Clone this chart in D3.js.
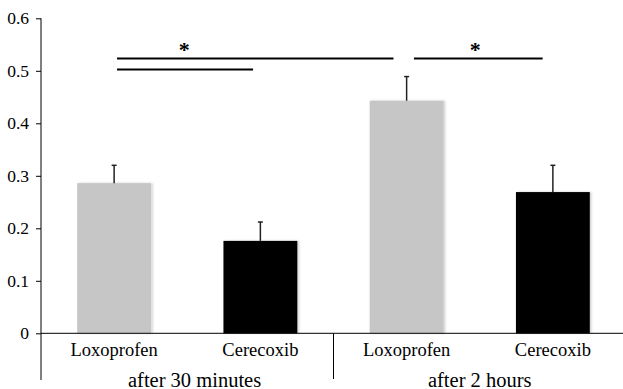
<!DOCTYPE html>
<html>
<head>
<meta charset="utf-8">
<script src="https://cdn.jsdelivr.net/npm/d3@7"></script>
<style>
  html, body { margin: 0; padding: 0; background: #fff; }
  svg { display: block; }
  text { font-family: "Liberation Serif", "Times New Roman", serif; fill: #000; }
</style>
</head>
<body>
<svg id="chart" width="623" height="389"></svg>
<script>
// ---- data ----
const drugs = ["Loxoprofen", "Cerecoxib", "Loxoprofen", "Cerecoxib"];
const groups = ["after 30 minutes", "after 2 hours"];
const groupCenter = [0.55, 2.5];
const means = [0.286, 0.176, 0.443, 0.269];
const errors = [0.034, 0.036, 0.046, 0.051];
const barColors = ["#c6c6c6", "#000000", "#c6c6c6", "#000000"];
const yTicks = [0, 0.1, 0.2, 0.3, 0.4, 0.5, 0.6];
const yTickLabels = ["0", "0.1", "0.2", "0.3", "0.4", "0.5", "0.6"];
// significance brackets: from category index, to category index, value level
const sigFrom = [0.02, 0.02, 2.05];
const sigTo = [1.91, 0.95, 2.93];
const sigLevel = [0.5235, 0.5025, 0.5235];
const starIndex = [0.48, 2.47];
const starLevel = [0.553, 0.553];

// ---- layout ----
const svg = d3.select("#chart");
const mLeft = 41, mRight = 626, mTop = 18.3, mBottom = 333.3;

const y = d3.scaleLinear().domain([0, 0.6]).range([mBottom, mTop]);
const x = d3.scaleBand().domain(d3.range(drugs.length)).range([mLeft, mRight]).paddingInner(0.495).paddingOuter(0.2475);
const idx = d3.scaleLinear().domain([-0.5, drugs.length - 0.5]).range([mLeft, mRight]);

// shadow filter
const defs = svg.append("defs");
const f = defs.append("filter").attr("id", "sh").attr("x", "-10%").attr("y", "-10%").attr("width", "130%").attr("height", "130%");
f.append("feDropShadow").attr("dx", 1.5).attr("dy", 0).attr("stdDeviation", 0.8).attr("flood-color", "#000").attr("flood-opacity", 0.2);

// bars
svg.append("g").selectAll("rect").data(means).join("rect")
  .attr("x", (d, i) => x(i))
  .attr("width", x.bandwidth())
  .attr("y", d => y(d))
  .attr("height", d => y(0) - y(d))
  .attr("fill", (d, i) => barColors[i])
  .attr("filter", "url(#sh)");

// error bars
const eb = svg.append("g").attr("stroke", "#222").attr("stroke-width", 1.5);
means.forEach((m, i) => {
  const cx = x(i) + x.bandwidth() / 2;
  eb.append("line").attr("x1", cx).attr("x2", cx).attr("y1", y(m)).attr("y2", y(m + errors[i]));
  eb.append("line").attr("x1", cx - 2.5).attr("x2", cx + 2.5).attr("y1", y(m + errors[i])).attr("y2", y(m + errors[i]));
});

// y axis
const yAxis = d3.axisLeft(y).tickValues(yTicks).tickFormat((d, i) => yTickLabels[i]).tickSize(5).tickPadding(7);
const ga = svg.append("g").attr("transform", `translate(${mLeft},0)`).call(yAxis);
ga.attr("font-family", "Liberation Serif");
ga.select(".domain").remove();
ga.selectAll(".tick line").attr("stroke", "#000");
ga.selectAll(".tick text").attr("font-size", 17.5).attr("fill", "#000");
svg.append("line").attr("x1", mLeft).attr("x2", mLeft).attr("y1", mTop).attr("y2", 380).attr("stroke", "#000").attr("stroke-width", 1);

// x axis
svg.append("line").attr("x1", mLeft).attr("x2", 623).attr("y1", y(0)).attr("y2", y(0)).attr("stroke", "#000").attr("stroke-width", 1);
// group separator
svg.append("line").attr("x1", idx(1.5)).attr("x2", idx(1.5)).attr("y1", y(0)).attr("y2", 379).attr("stroke", "#000").attr("stroke-width", 1);

// category labels
svg.append("g").selectAll("text").data(drugs).join("text")
  .attr("x", (d, i) => x(i) + x.bandwidth() / 2)
  .attr("y", 356)
  .attr("text-anchor", "middle")
  .attr("font-size", 18.5)
  .text(d => d);

// group labels
svg.append("g").selectAll("text").data(groups).join("text")
  .attr("x", (d, i) => idx(groupCenter[i]))
  .attr("y", 386.5)
  .attr("text-anchor", "middle")
  .attr("font-size", 20.5)
  .text(d => d);

// significance lines
svg.append("g").selectAll("line").data(sigLevel).join("line")
  .attr("x1", (d, i) => idx(sigFrom[i]))
  .attr("x2", (d, i) => idx(sigTo[i]))
  .attr("y1", d => y(d))
  .attr("y2", d => y(d))
  .attr("stroke", "#000")
  .attr("stroke-width", 2);

svg.append("g").selectAll("text").data(starLevel).join("text")
  .attr("x", (d, i) => idx(starIndex[i]))
  .attr("y", d => y(d))
  .attr("dy", "0.62em")
  .attr("text-anchor", "middle")
  .attr("font-size", 22)
  .attr("font-weight", "bold")
  .text("*");
</script>
</body>
</html>
